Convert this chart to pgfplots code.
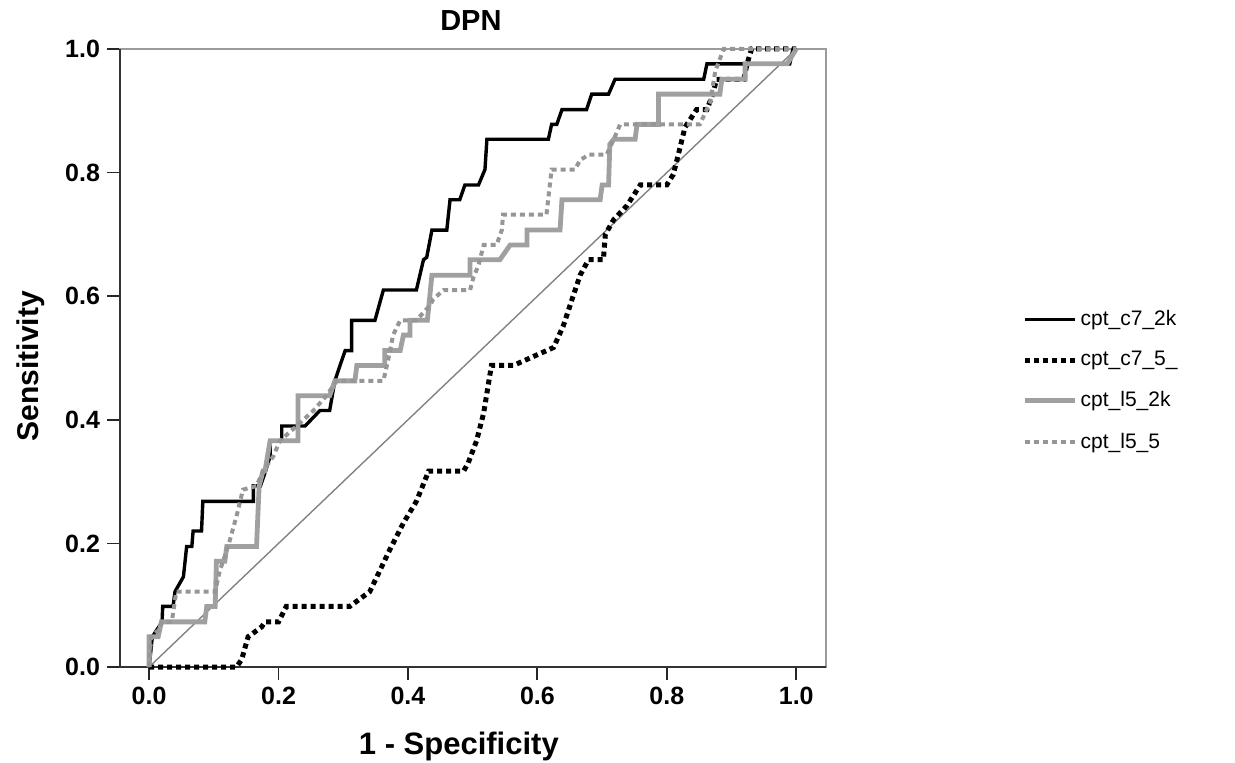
\documentclass[border=0pt]{standalone}
\usepackage{pgfplots}
\pgfplotsset{compat=1.18}
\usepackage{fontspec}
\setmainfont{Liberation Sans}
\definecolor{lgray}{RGB}{160,160,160}
\definecolor{dgray}{RGB}{150,150,150}
\definecolor{framegray}{RGB}{155,155,155}
\definecolor{refgray}{RGB}{130,130,130}
\begin{document}
\begin{tikzpicture}
\path[use as bounding box] (-60bp,-48bp) rectangle (557.5bp,333.5bp);
\begin{axis}[
  name=ax, at={(0,0)}, anchor=south west,
  scale only axis, width=353bp, height=309bp,
  xmin=-0.045, xmax=1.046, ymin=0, ymax=1,
  clip=false,
  xtick={0,0.2,0.4,0.6,0.8,1}, ytick={0,0.2,0.4,0.6,0.8,1},
  xticklabels={0.0,0.2,0.4,0.6,0.8,1.0},
  yticklabels={0.0,0.2,0.4,0.6,0.8,1.0},
  tick align=outside, tick pos=left,
  major tick length=6.5bp,
  tick style={black!85, line width=0.9bp},
  axis line style={framegray, line width=1bp},
  ticklabel style={font=\bfseries\fontsize{12.5bp}{14bp}\selectfont},
  xlabel={1 - Specificity}, ylabel={Sensitivity}, title={DPN},
  xlabel style={font=\bfseries\fontsize{15.5bp}{17bp}\selectfont, at={(axis description cs:0.48,-0.128)}, anchor=center},
  ylabel style={font=\bfseries\fontsize{15bp}{17bp}\selectfont, at={(axis description cs:-0.127,0.487)}, anchor=center, rotate=0},
  title style={font=\bfseries\fontsize{14.5bp}{16bp}\selectfont, at={(axis description cs:0.497,1.027)}, anchor=center},
  legend style={at={(axis description cs:1.278,0.583)}, anchor=north west, draw=none, fill=none,
    font=\fontsize{10.5bp}{12bp}\selectfont, row sep=8.5bp, inner xsep=0pt, inner ysep=0pt,
    nodes={inner sep=1.5bp}},
  legend cell align=left,
  legend image code/.code={\draw[#1] (0bp,0bp) -- (25bp,0bp);},
]
\draw[black!80, line width=1bp] (rel axis cs:0,1) -- (rel axis cs:0,0) -- (rel axis cs:1,0);
\addplot[refgray, line width=0.7bp, forget plot] coordinates {(0,0) (1,1)};

\addplot[black, line width=1.7bp] coordinates {
(0,0) (0.005,0.049) (0.02,0.073) (0.021,0.098) (0.037,0.098) (0.04,0.122) (0.053,0.146)
(0.058,0.195) (0.066,0.195) (0.068,0.22) (0.081,0.22) (0.083,0.268) (0.161,0.268)
(0.161,0.293) (0.172,0.293) (0.18,0.317) (0.187,0.341) (0.187,0.366) (0.205,0.366)
(0.205,0.39) (0.241,0.39) (0.264,0.415) (0.279,0.415) (0.287,0.463) (0.295,0.488)
(0.303,0.512) (0.313,0.512) (0.313,0.561) (0.349,0.561) (0.362,0.61) (0.413,0.61)
(0.424,0.659) (0.429,0.663) (0.437,0.707) (0.46,0.707) (0.465,0.756) (0.48,0.756)
(0.488,0.78) (0.509,0.78) (0.519,0.805) (0.522,0.854) (0.617,0.854) (0.622,0.878)
(0.63,0.878) (0.638,0.902) (0.676,0.902) (0.684,0.927) (0.71,0.927) (0.72,0.951)
(0.857,0.951) (0.862,0.976) (0.99,0.976) (0.995,1) (1,1)};
\addlegendentry{cpt\_c7\_2k}

\addplot[black, line width=2.5bp, dash pattern=on 2.5bp off 2bp] coordinates {
(0,0) (0.135,0) (0.143,0.012) (0.153,0.049) (0.161,0.055) (0.174,0.065) (0.179,0.073)
(0.2,0.073) (0.212,0.098) (0.31,0.098) (0.341,0.122) (0.352,0.146) (0.372,0.19)
(0.393,0.233) (0.413,0.268) (0.432,0.317) (0.486,0.317) (0.493,0.33) (0.506,0.366)
(0.517,0.411) (0.529,0.488) (0.563,0.488) (0.625,0.517) (0.64,0.552) (0.666,0.634)
(0.679,0.659) (0.702,0.659) (0.705,0.7) (0.718,0.724) (0.738,0.746) (0.759,0.78)
(0.8,0.78) (0.81,0.797) (0.818,0.83) (0.828,0.873) (0.846,0.902) (0.862,0.902)
(0.87,0.924) (0.877,0.951) (0.919,0.951) (0.924,0.976) (0.931,1) (1,1)};
\addlegendentry{cpt\_c7\_5\_}

\addplot[lgray, line width=2.4bp] coordinates {
(0,0) (0,0.049) (0.014,0.049) (0.019,0.073) (0.086,0.073) (0.089,0.098) (0.102,0.098)
(0.104,0.171) (0.117,0.171) (0.12,0.195) (0.166,0.195) (0.17,0.293) (0.176,0.317)
(0.179,0.317) (0.187,0.366) (0.23,0.366) (0.23,0.439) (0.279,0.439) (0.287,0.463)
(0.318,0.463) (0.321,0.488) (0.364,0.488) (0.364,0.512) (0.388,0.512) (0.393,0.537)
(0.403,0.537) (0.403,0.561) (0.43,0.561) (0.437,0.634) (0.496,0.634) (0.496,0.659)
(0.542,0.659) (0.558,0.683) (0.584,0.683) (0.584,0.707) (0.635,0.707) (0.638,0.756)
(0.697,0.756) (0.7,0.78) (0.71,0.78) (0.712,0.846) (0.718,0.854) (0.751,0.854)
(0.754,0.878) (0.787,0.878) (0.787,0.927) (0.882,0.927) (0.885,0.951) (0.921,0.951)
(0.921,0.976) (0.986,0.976) (1,1)};
\addlegendentry{cpt\_l5\_2k}

\addplot[dgray, line width=2bp, dash pattern=on 2.5bp off 2bp] coordinates {
(0,0) (0.003,0.049) (0.015,0.06) (0.02,0.073) (0.035,0.073) (0.042,0.122) (0.102,0.122)
(0.109,0.155) (0.122,0.195) (0.135,0.244) (0.145,0.287) (0.166,0.293) (0.176,0.317)
(0.192,0.341) (0.202,0.366) (0.228,0.39) (0.254,0.415) (0.274,0.439) (0.29,0.463)
(0.362,0.463) (0.37,0.5) (0.377,0.537) (0.388,0.561) (0.413,0.561) (0.434,0.585)
(0.439,0.595) (0.455,0.61) (0.496,0.61) (0.501,0.63) (0.509,0.65) (0.517,0.683)
(0.537,0.683) (0.545,0.707) (0.547,0.732) (0.614,0.732) (0.622,0.805) (0.658,0.805)
(0.666,0.82) (0.679,0.829) (0.707,0.829) (0.718,0.854) (0.728,0.878) (0.851,0.878)
(0.867,0.914) (0.875,0.965) (0.888,1) (1,1)};
\addlegendentry{cpt\_l5\_5}
\end{axis}
\end{tikzpicture}
\end{document}
